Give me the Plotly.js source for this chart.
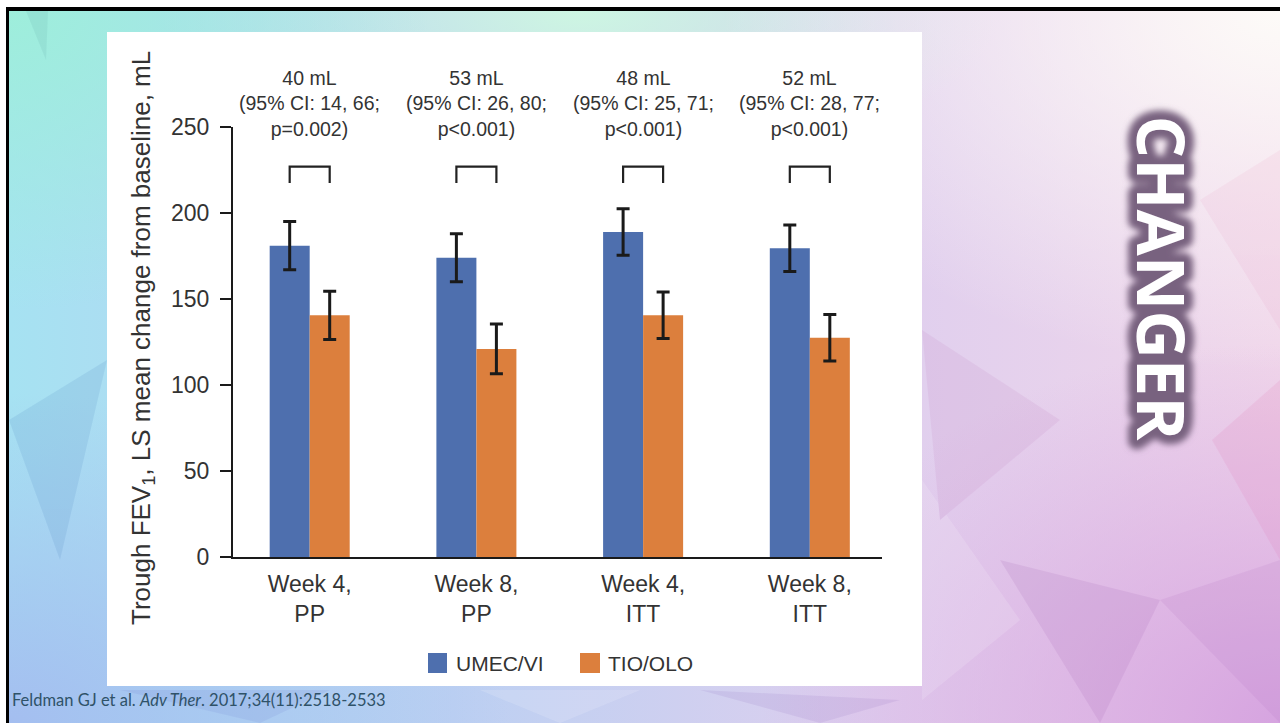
<!DOCTYPE html>
<html>
<head>
<meta charset="utf-8">
<script src="https://cdn.plot.ly/plotly-3.0.1.min.js"></script>
<style>
  html, body { margin:0; padding:0; width:1280px; height:723px; overflow:hidden; background:#ffffff; }
  #slide {
    position:absolute; left:6px; top:7px; width:1274px; height:716px;
    box-sizing:border-box; border-top:4px solid #000; border-left:3px solid #000;
    background:
      radial-gradient(ellipse 420px 300px at 0% 0%, #9eeedb 0%, rgba(158,238,219,0) 100%),
      radial-gradient(ellipse 500px 330px at 0% 100%, #a4bef0 0%, rgba(164,190,240,0) 100%),
      radial-gradient(ellipse 560px 360px at 100% 0%, #fdfbf8 0%, rgba(253,251,248,0) 100%),
      radial-gradient(ellipse 520px 380px at 100% 100%, #d6a4e0 0%, rgba(214,164,224,0) 100%),
      radial-gradient(ellipse 420px 160px at 45% 0%, #cdf6e2 0%, rgba(205,246,226,0) 100%),
      linear-gradient(90deg, #a6e2f2 0%, #bcd0f2 35%, #e0cfee 70%, #f0d6ea 100%);
  }
  #poly { position:absolute; left:0; top:0; }
  #chart { position:absolute; left:107px; top:32px; width:815px; height:654px; background:#fff; }
  #changer { position:absolute; left:1090px; top:90px; }
  #cite {
    position:absolute; left:12px; top:690px; font-family:Lato, 'Open Sans', sans-serif;
    font-size:16.5px; color:#2f5268; white-space:nowrap;
  }
</style>
</head>
<body>
<div id="slide"></div>
<svg id="poly" width="1280" height="723">
  <g opacity="0.14">
    <polygon points="26,11 48,11 46,60" fill="#5aa6a0"/>
    <polygon points="9,420 107,360 60,560" fill="#4a80c0"/>
    <polygon points="120,690 260,723 330,690" fill="#7080d0"/>
    <polygon points="480,690 560,723 640,690" fill="#ffffff"/>
    <polygon points="700,690 820,723 900,700" fill="#9070c0"/>
    <polygon points="922,480 1020,620 922,700" fill="#ffffff"/>
    <polygon points="1000,560 1160,600 1100,723" fill="#a060b0"/>
    <polygon points="1160,600 1280,560 1280,723" fill="#b070c0"/>
    <polygon points="1212,440 1280,380 1280,560" fill="#e070b0"/>
    <polygon points="922,330 1060,420 940,520" fill="#c080c0"/>
    <polygon points="1200,200 1280,150 1280,330" fill="#e8a0c8"/>
  </g>
</svg>
<div id="chart"></div>
<svg id="changer" width="150" height="380">
  <defs>
    <filter id="blur" x="-30%" y="-10%" width="160%" height="120%">
      <feGaussianBlur stdDeviation="3"/>
    </filter>
  </defs>
  <g transform="translate(73,188) rotate(90)">
    <text x="0" y="0" text-anchor="middle" dominant-baseline="central"
      font-family="'Open Sans', sans-serif" font-weight="700" font-size="67"
      fill="#78627f" stroke="#78627f" stroke-width="18" stroke-linejoin="round" filter="url(#blur)">CHANGER</text>
    <text x="0" y="0" text-anchor="middle" dominant-baseline="central"
      font-family="'Open Sans', sans-serif" font-weight="700" font-size="67"
      fill="#ffffff">CHANGER</text>
  </g>
</svg>
<div id="cite">Feldman GJ et al. <i>Adv Ther</i>. 2017;34(11):2518-2533</div>
<script>
// ---- data ----
const categories = ['Week 4,<br>PP', 'Week 8,<br>PP', 'Week 4,<br>ITT', 'Week 8,<br>ITT'];
const seriesNames = ['UMEC/VI', 'TIO/OLO'];
const umecVi = [181, 174, 189, 179.5];
const umecViErr = [14, 14, 13.5, 13.5];
const tioOlo = [140.5, 121, 140.5, 127.5];
const tioOloErr = [14, 14.5, 13.5, 13.5];
const diffMl = [40, 53, 48, 52];
const ciLow = [14, 26, 25, 28];
const ciHigh = [66, 80, 71, 77];
const pValues = ['p=0.002', 'p<0.001', 'p<0.001', 'p<0.001'];
const bracketLow = 217.5;
const bracketHigh = 227;
const yTicks = [0, 50, 100, 150, 200, 250];

// ---- style ----
const FONT = 'Liberation Sans, Arial, Helvetica, sans-serif';
const TXT = '#333333';
const INK = '#1a1a1a';
const BLUE = '#4e6fae';
const ORANGE = '#dc7f3d';

const xs = categories.map((_, i) => i);
const halfBar = 0.12;

const bx = [], by = [];
xs.forEach(x => {
  bx.push(x - halfBar, x - halfBar, x + halfBar, x + halfBar, null);
  by.push(bracketLow, bracketHigh, bracketHigh, bracketLow, null);
});

const traces = [
  {
    type: 'bar', name: seriesNames[0], x: xs, y: umecVi,
    marker: { color: BLUE },
    error_y: { type: 'data', array: umecViErr, visible: true, color: INK, thickness: 3, width: 6.5 }
  },
  {
    type: 'bar', name: seriesNames[1], x: xs, y: tioOlo,
    marker: { color: ORANGE },
    error_y: { type: 'data', array: tioOloErr, visible: true, color: INK, thickness: 3, width: 6.5 }
  },
  {
    type: 'scatter', mode: 'lines', x: bx, y: by, showlegend: false, hoverinfo: 'skip',
    line: { color: '#222222', width: 2.2 }, cliponaxis: false
  }
];

// plot-area geometry (px inside chart div) for placing paper-space items
const PL = 126, PW = 649, PT = 95, PH = 430;
const px2x = p => (p - PL) / PW;
const py2y = p => 1 - (p - PT) / PH;

const esc = s => s.replace(/</g, '&lt;');
const annotations = xs.map((x, i) => ({
  xref: 'x', yref: 'paper', x: x, y: py2y(71.5), xanchor: 'center', yanchor: 'middle',
  text: diffMl[i] + ' mL<br>(95% CI: ' + ciLow[i] + ', ' + ciHigh[i] + ';<br>' + esc(pValues[i]) + ')',
  showarrow: false, font: { family: FONT, size: 19.5, color: TXT }, align: 'center'
}));

annotations.push({
  xref: 'paper', yref: 'paper', x: px2x(35), y: py2y(306), xanchor: 'center', yanchor: 'middle',
  text: 'Trough FEV<sub>1</sub>, LS mean change from baseline, mL', textangle: -90,
  showarrow: false, font: { family: FONT, size: 26, color: TXT }
});

// legend (manual, larger swatches)
const shapes = [
  { type: 'rect', xref: 'paper', yref: 'paper', x0: px2x(321), x1: px2x(340), y0: py2y(641), y1: py2y(621), fillcolor: BLUE, line: { width: 0 } },
  { type: 'rect', xref: 'paper', yref: 'paper', x0: px2x(473), x1: px2x(493), y0: py2y(641), y1: py2y(621), fillcolor: ORANGE, line: { width: 0 } }
];
annotations.push(
  { xref: 'paper', yref: 'paper', x: px2x(347), y: py2y(631), xanchor: 'left', yanchor: 'middle',
    text: seriesNames[0], showarrow: false, font: { family: FONT, size: 21, color: TXT } },
  { xref: 'paper', yref: 'paper', x: px2x(499), y: py2y(631), xanchor: 'left', yanchor: 'middle',
    text: seriesNames[1], showarrow: false, font: { family: FONT, size: 21, color: TXT } }
);

const layout = {
  width: 815, height: 654,
  margin: { l: PL, r: 815 - PL - PW, t: PT, b: 654 - PT - PH },
  paper_bgcolor: '#ffffff', plot_bgcolor: '#ffffff',
  barmode: 'group', bargap: 0.52, bargroupgap: 0,
  showlegend: false,
  font: { family: FONT, color: TXT },
  xaxis: {
    range: [-0.46, 3.433], tickvals: xs, ticktext: categories,
    showline: true, linecolor: INK, linewidth: 2, ticks: '', showgrid: false, zeroline: false,
    tickfont: { family: FONT, size: 23, color: TXT }, ticklabelstandoff: 5, fixedrange: true
  },
  yaxis: {
    range: [0, 250], tickvals: yTicks, ticks: 'outside', ticklen: 11, tickwidth: 2, tickcolor: INK,
    showline: true, linecolor: INK, linewidth: 2, showgrid: false, zeroline: false,
    tickfont: { family: FONT, size: 23, color: TXT }, ticklabelstandoff: 6, fixedrange: true
  },
  annotations: annotations,
  shapes: shapes
};

Plotly.newPlot('chart', traces, layout, { displayModeBar: false, staticPlot: true });
</script>
</body>
</html>
